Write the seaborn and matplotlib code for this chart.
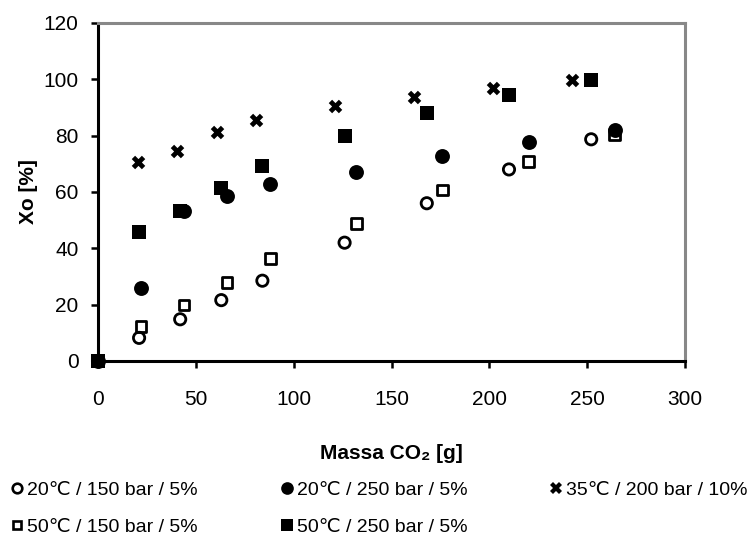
import pandas as pd
import matplotlib.pyplot as plt
from matplotlib.lines import Line2D
import seaborn as sns

# Mass of CO2 [g] used in each run set
mass_21 = [0, 21, 42, 63, 84, 126, 168, 210, 252]
mass_22 = [0, 22, 44, 66, 88, 132, 176, 220, 264]
mass_20 = [0, 20.2, 40.4, 60.6, 80.8, 121, 161.5, 202, 242]

# Xo [%], one list per condition
xo_20_150 = [0, 8.2, 14.8, 21.6, 28.5, 42, 56, 68, 78.7]
xo_20_250 = [0, 25.8, 53.2, 58.6, 62.7, 67.2, 72.8, 77.9, 82]
xo_35_200 = [0, 70.8, 74.7, 81.4, 85.5, 90.5, 93.8, 96.8, 99.7]
xo_50_150 = [0, 12.2, 19.9, 27.9, 36.4, 48.9, 60.7, 70.9, 80.5]
xo_50_250 = [0, 45.9, 53.2, 61.3, 69.2, 79.9, 88.2, 94.6, 99.7]

labels = ['20\u2103 / 150 bar / 5%', '20\u2103 / 250 bar / 5%', '35\u2103 / 200 bar / 10%',
          '50\u2103 / 150 bar / 5%', '50\u2103 / 250 bar / 5%']
masses = [mass_21, mass_22, mass_20, mass_22, mass_21]
values = [xo_20_150, xo_20_250, xo_35_200, xo_50_150, xo_50_250]

# long table for seaborn
df = pd.concat([pd.DataFrame({'Massa': m, 'Xo': v, 'Serie': lab})
                for m, v, lab in zip(masses, values, labels)], ignore_index=True)

# marker, face colour, size, edge width for each series
styles = {
    labels[0]: dict(marker='o', fc='none', s=66, lw=2.0),
    labels[1]: dict(marker='o', fc='black', s=115, lw=0),
    labels[2]: dict(marker='X', fc='black', s=95, lw=0),
    labels[3]: dict(marker='s', fc='none', s=58, lw=2.0),
    labels[4]: dict(marker='s', fc='black', s=100, lw=0),
}

sns.set_style('white')
plt.rcParams['font.family'] = ['Liberation Sans', 'DejaVu Sans']
plt.rcParams['text.color'] = 'black'
plt.rcParams['axes.labelcolor'] = 'black'
plt.rcParams['xtick.color'] = 'black'
plt.rcParams['ytick.color'] = 'black'

fig = plt.figure(figsize=(7.52, 5.42), dpi=100)
ax = fig.add_axes([0.1303, 0.334, 0.7808, 0.6236])

for lab in labels:
    st = styles[lab]
    sns.scatterplot(data=df[df['Serie'] == lab], x='Massa', y='Xo', ax=ax,
                    marker=st['marker'], s=st['s'], facecolor=st['fc'],
                    edgecolor='black', linewidth=st['lw'], zorder=3, clip_on=False)

ax.set_xlim(0, 300)
ax.set_ylim(0, 120)
ax.set_xticks(range(0, 301, 50))
ax.set_yticks(range(0, 121, 20))
ax.tick_params(axis='both', labelsize=15, direction='out', length=5, width=1.8,
               left=True, bottom=True)
ax.tick_params(axis='x', pad=16)
ax.tick_params(axis='y', pad=9)
ax.set_xlabel('Massa CO\u2082 [g]', fontsize=15, fontweight='bold', labelpad=25)
ax.set_ylabel('Xo [%]', fontsize=15, fontweight='bold', labelpad=4)

for side in ['left', 'bottom']:
    ax.spines[side].set_color('black')
    ax.spines[side].set_linewidth(2.2)
for side in ['top', 'right']:
    ax.spines[side].set_color('#888888')
    ax.spines[side].set_linewidth(2.2)

# legend below the chart, filled column by column
handles = []
for lab in labels:
    st = styles[lab]
    handles.append(Line2D([], [], linestyle='none', marker=st['marker'],
                          markerfacecolor=st['fc'], markeredgecolor='black',
                          markeredgewidth=st['lw'] * 0.95,
                          markersize=(st['s'] ** 0.5) * 0.85))
order = [0, 3, 1, 4, 2]
fig.legend([handles[i] for i in order], [labels[i] for i in order],
           ncol=3, mode='expand', loc='center', bbox_to_anchor=(0.014, 0.061, 0.98, 0),
           frameon=False, fontsize=14, handlelength=0.7, handletextpad=0.15,
           labelspacing=1.0, borderpad=0, borderaxespad=0)

fig.savefig('out.png', dpi=100)
